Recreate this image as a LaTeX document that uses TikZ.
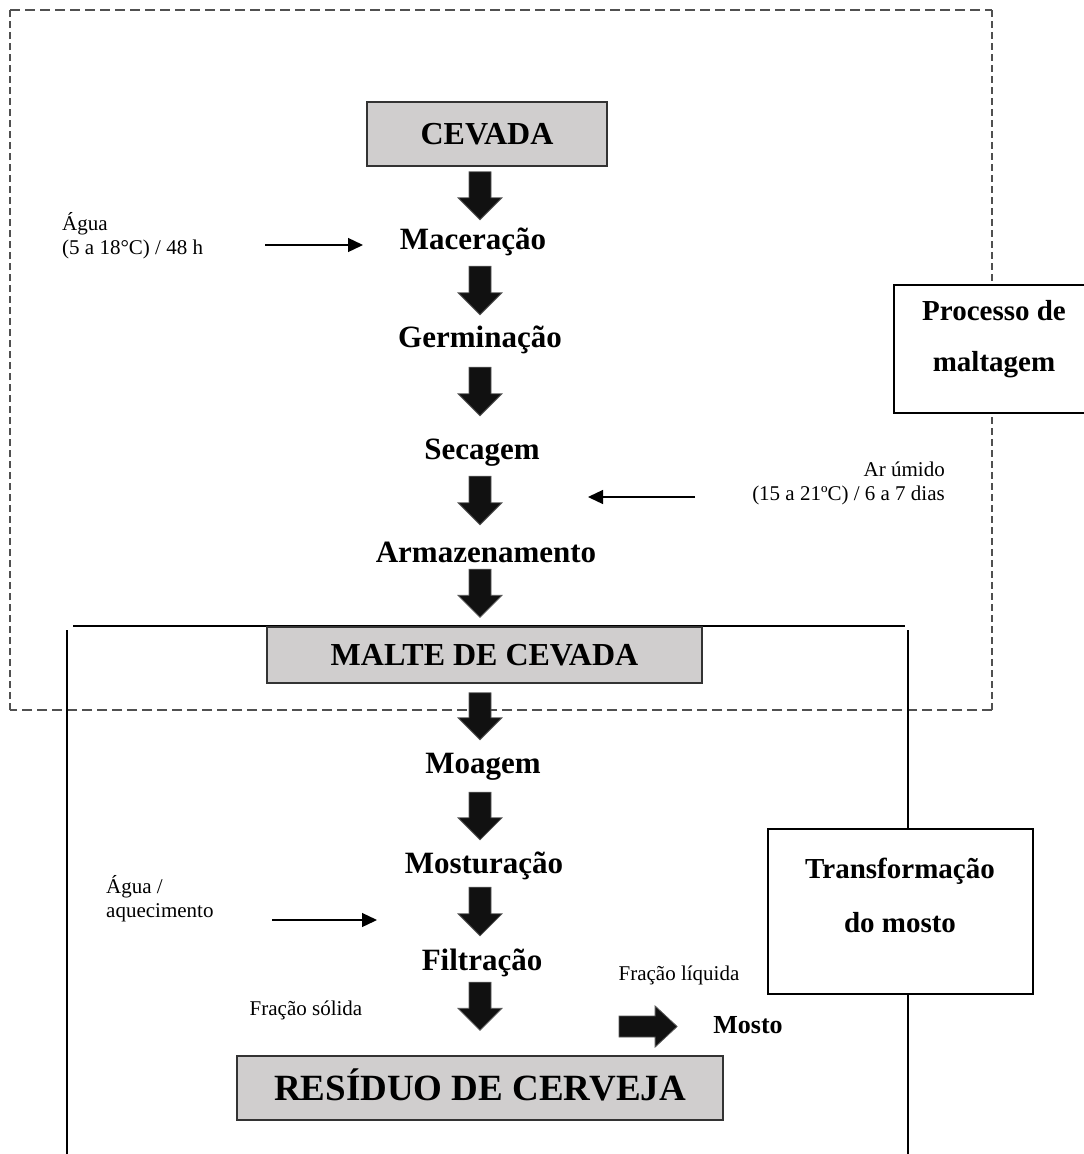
\documentclass[tikz,border=0pt]{standalone}
\usepackage{fontspec}
\setmainfont{Liberation Serif}
\usetikzlibrary{arrows.meta,calc}
\definecolor{boxgray}{RGB}{208,206,206}
\definecolor{arrowblack}{RGB}{17,17,17}
\definecolor{dashgray}{RGB}{80,80,80}
\begin{document}
\begin{tikzpicture}[x=1pt,y=-1pt,
  graybox/.style={draw=black!80, line width=1.5pt, fill=boxgray, inner sep=0pt},
  wbox/.style={draw=black, line width=1.3pt, fill=white},
  stagelbl/.style={font=\fontsize{31}{37}\selectfont\bfseries, inner sep=0pt, text height=21pt, text depth=0pt, anchor=base},
  sidelbl/.style={font=\fontsize{29}{51}\selectfont\bfseries, inner sep=0pt, align=center},
  small/.style={font=\fontsize{21}{24}\selectfont, inner sep=0pt},
  thinarr/.style={line width=1.3pt, -{Triangle[length=15pt,width=14pt]}},
  frameline/.style={line width=1.3pt},
  dashh/.style={draw=dashgray, line width=1.2pt, dash pattern=on 10pt off 5pt},
  dashv/.style={draw=dashgray, line width=1.2pt, dash pattern=on 7pt off 4pt},
  blkv/.style 2 args={fill=arrowblack, draw=black!65, line width=0.8pt,
    to path={let \p1=(\tikztostart), \p2=(\tikztotarget) in
      ({\x1-11pt},{\y1-#1}) -- ({\x1+11pt},{\y1-#1}) -- ({\x1+11pt},{\y2+#2+22pt})
      -- ({\x1+22pt},{\y2+#2+22pt}) -- (\x1,{\y2+#2}) -- ({\x1-22pt},{\y2+#2+22pt})
      -- ({\x1-11pt},{\y2+#2+22pt}) -- cycle}},
  blkh/.style={fill=arrowblack, draw=black!65, line width=0.8pt,
    to path={let \p1=(\tikztostart), \p2=(\tikztotarget) in
      (\x1,{\y1+10.5pt}) -- ({\x2-#1-22pt},{\y1+10.5pt}) -- ({\x2-#1-22pt},{\y1+20.5pt})
      -- ({\x2-#1},\y1) -- ({\x2-#1-22pt},{\y1-20.5pt}) -- ({\x2-#1-22pt},{\y1-10.5pt})
      -- (\x1,{\y1-10.5pt}) -- cycle}}
]
\useasboundingbox (0,0) rectangle (1084,1154);

% dashed frame (processo de maltagem)
\draw[dashh] (10,10) -- (992,10);
\draw[dashv] (992,10) -- (992,710);
\draw[dashh] (992,710) -- (10,710);
\draw[dashv] (10,710) -- (10,10);

% solid frame (transformacao do mosto)
\draw[frameline] (73,626) -- (905,626);
\draw[frameline] (67,630) -- (67,1160);
\draw[frameline] (908,630) -- (908,1160);

% side boxes
\node[wbox, minimum width=200pt, minimum height=128pt] (procbox) at (994,349) {};
\node[sidelbl] (proclbl) at (994,339.5) {Processo de\\maltagem};
\node[wbox, minimum width=265pt, minimum height=165pt] (transbox) at (900.5,911.5) {};
\node[sidelbl, font=\fontsize{29}{54}\selectfont\bfseries] (translbl) at (900,895) {Transformação\\do mosto};

% gray boxes
\node[graybox, minimum width=240pt, minimum height=64pt, font=\fontsize{32}{38}\selectfont\bfseries, text height=21pt, text depth=0pt] (cevada) at (487,134) {CEVADA};
\node[graybox, minimum width=435pt, minimum height=56pt, font=\fontsize{32}{38}\selectfont\bfseries, text height=21pt, text depth=0pt] (malte) at (484.5,655) {MALTE DE CEVADA};
\node[graybox, minimum width=486pt, minimum height=64pt, font=\fontsize{37}{44}\selectfont\bfseries, text height=24.5pt, text depth=0pt] (residuo) at (480,1088) {RESÍDUO DE CERVEJA};

% stage labels
\node[stagelbl] (mac) at (473,249) {Maceração};
\node[stagelbl] (germ) at (480,347) {Germinação};
\node[stagelbl] (sec) at (482,459) {Secagem};
\node[stagelbl] (arm) at (486,562) {Armazenamento};
\node[stagelbl] (moag) at (483,773) {Moagem};
\node[stagelbl] (most) at (484,873) {Mosturação};
\node[stagelbl] (filt) at (482,970) {Filtração};

% block arrows
\coordinate (col) at (480,0);
\draw[blkv={5pt}{8pt}] (cevada.south -| col) to (mac.north -| col);
\draw[blkv={17pt}{11pt}] (mac.south -| col) to (germ.north -| col);
\draw[blkv={20pt}{22pt}] (germ.south -| col) to (sec.north -| col);
\draw[blkv={17pt}{16pt}] (sec.south -| col) to (arm.north -| col);
\draw[blkv={7pt}{9pt}] (arm.south -| col) to (malte.north -| col);
\draw[blkv={9pt}{12pt}] (malte.south -| col) to (moag.north -| col);
\draw[blkv={19pt}{12pt}] (moag.south -| col) to (most.north -| col);
\draw[blkv={14pt}{13pt}] (most.south -| col) to (filt.north -| col);
\draw[blkv={12pt}{25pt}] (filt.south -| col) to (residuo.north -| col);

% side inputs
\node[small, anchor=west, align=left] (agua1) at (62,236) {Água\\(5 a 18°C) / 48 h};
\coordinate (w1s) at (265,245);
\coordinate (w1e) at (363,245);
\draw[thinarr] (w1s) -- (w1e);

\node[small, anchor=east, align=right] (ar) at (945,483) {Ar úmido\\(15 a 21ºC) / 6 a 7 dias};
\coordinate (w2s) at (695,497);
\coordinate (w2e) at (588,497);
\draw[thinarr] (w2s) -- (w2e);

\node[small, anchor=west, align=left] (agua2) at (106,898.5) {Água /\\aquecimento};
\coordinate (w3s) at (272,920);
\coordinate (w3e) at (377,920);
\draw[thinarr] (w3s) -- (w3e);

% fractions
\node[small] (solida) at (306,1010) {Fração sólida};
\node[small] (liquida) at (679,975) {Fração líquida};
\node[font=\fontsize{26}{31}\selectfont\bfseries, inner sep=0pt] (mosto) at (748,1025) {Mosto};
\coordinate (mst) at (619,1026.5);
\draw[blkh=36pt] (mst) to (mosto.west |- mst);
\end{tikzpicture}
\end{document}
